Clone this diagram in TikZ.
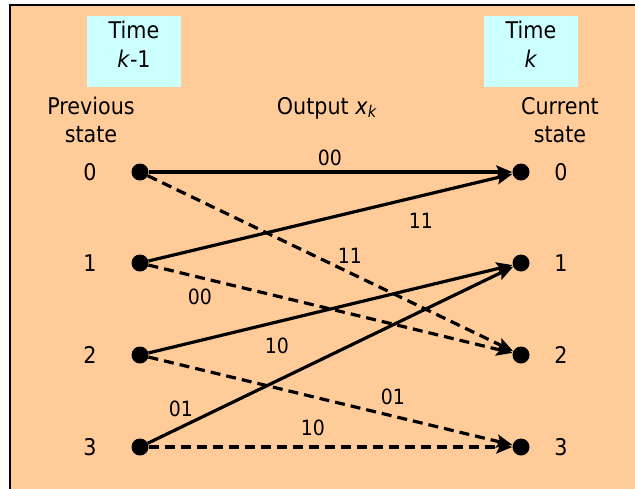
\documentclass[tikz,border=0pt]{standalone}
\usepackage{fontspec}
\setmainfont{DejaVu Sans Condensed}
\usetikzlibrary{arrows.meta}
\definecolor{bgorange}{HTML}{FFCC99}
\definecolor{timecyan}{HTML}{CCFFFF}
\tikzset{
  dot/.style={circle,fill=black,inner sep=0pt,minimum size=17pt},
  txt/.style={font=\fontsize{23}{27}\selectfont,inner sep=0pt,align=center},
  lbl/.style={font=\fontsize{21}{25}\selectfont,inner sep=0pt},
  trans/.style={line width=3.2pt,-{Stealth[length=16pt,width=13pt,inset=3pt]}},
  solidtr/.style={trans},
  dashtr/.style={trans,dash pattern=on 10pt off 6pt},
  timebox/.style={fill=timecyan,draw=none}
}
\begin{document}
\begin{tikzpicture}[x=1pt,y=-1pt]
\useasboundingbox (0,0) rectangle (635,488);
\fill[white] (0,0) rectangle (635,488);
\filldraw[fill=bgorange,draw=black,line width=1.5pt] (10,5) rectangle (640,493);
\fill[timecyan] (87,16) rectangle (181,87);
\fill[timecyan] (484,16) rectangle (578,87);
\node[txt] (t1a) at (134,30) {Time};
\node[txt] (t1b) at (134,59) {\textit{k}-1};
\node[txt] (t2a) at (531,30) {Time};
\node[txt] (t2b) at (531,59) {\textit{k}};
\node[txt] (prev1) at (91,106) {Previous};
\node[txt] (prev2) at (91,135) {state};
\node[txt] (cur1) at (560,106) {Current};
\node[txt] (cur2) at (560,135) {state};
\node[txt] (out) at (327,108) {Output \textit{x}\textsubscript{\textit{k}}};
% dots
\node[dot] (L0) at (140,172) {};
\node[dot] (L1) at (140,263) {};
\node[dot] (L2) at (140,355) {};
\node[dot] (L3) at (140,447) {};
\node[dot] (R0) at (521,172) {};
\node[dot] (R1) at (521,263) {};
\node[dot] (R2) at (521,355) {};
\node[dot] (R3) at (521,447) {};
% state labels
\node[txt] (sl0) at (90,172) {0};
\node[txt] (sl1) at (90,263) {1};
\node[txt] (sl2) at (90,355) {2};
\node[txt] (sl3) at (90,447) {3};
\node[txt] (sr0) at (561,172) {0};
\node[txt] (sr1) at (561,263) {1};
\node[txt] (sr2) at (561,355) {2};
\node[txt] (sr3) at (561,447) {3};
% transitions
\draw[solidtr] (L0) -- (R0);
\draw[solidtr] (L1) -- (R0);
\draw[solidtr] (L2) -- (R1);
\draw[solidtr] (L3) -- (R1);
\draw[dashtr] (L0) -- (R2);
\draw[dashtr] (L1) -- (R2);
\draw[dashtr] (L2) -- (R3);
\draw[dashtr] (L3) -- (R3);
% edge labels
\node[lbl] (e00) at (330,158) {00};
\node[lbl] (e10a) at (421,221) {11};
\node[lbl] (e02) at (350,256) {11};
\node[lbl] (e12) at (200,297) {00};
\node[lbl] (e21) at (277,346) {10};
\node[lbl] (e31) at (181,409) {01};
\node[lbl] (e23) at (393,397) {01};
\node[lbl] (e33) at (313,428) {10};
\end{tikzpicture}
\end{document}
